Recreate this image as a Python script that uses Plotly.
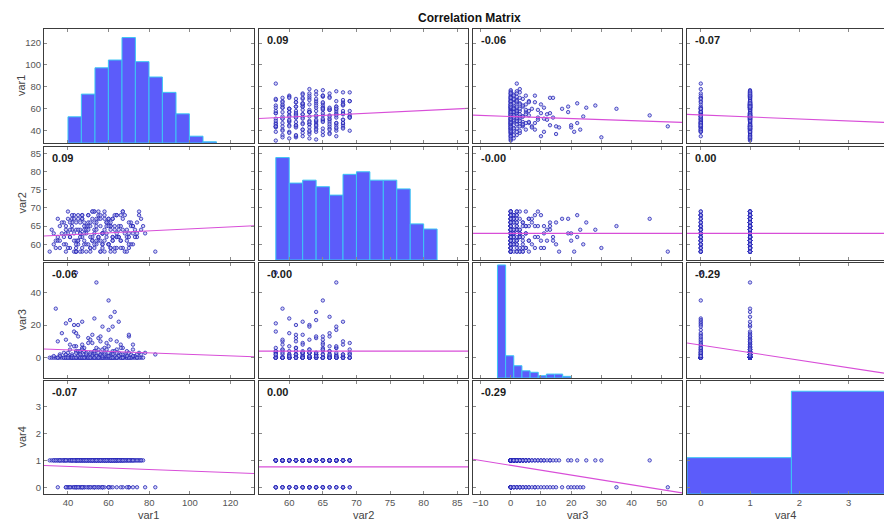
import plotly.graph_objects as go

names = ["var1", "var2", "var3", "var4"]

# ---- observations (read approximately from the scatter panels) ----
# group: var4 = 1, var3 = 0
gA_v1 = [31, 32, 34, 35, 36, 37, 38, 39, 40, 41, 42, 43, 44, 45, 46, 47, 48, 49, 50, 51, 52, 53, 54,
         55, 56, 57, 58, 59, 60, 61, 62, 63, 64, 65, 66, 67, 68, 69, 70, 71, 72, 73, 74, 76, 77,
         33, 38, 42, 44, 47, 49, 50, 52, 53, 55, 56, 57, 58, 59, 60, 61, 62, 63, 64, 66,
         48, 45, 51, 54, 46, 41, 67, 69, 71, 75]
gA_v2 = [58, 64, 61, 67, 59, 63, 66, 60, 69, 62, 65, 68, 58, 61, 64, 67, 60, 63, 66, 59, 62, 69, 65,
         68, 58, 63, 61, 66, 60, 64, 67, 59, 62, 65, 68, 69, 58, 61, 63, 66, 60, 64, 62, 67, 65,
         63, 60, 66, 59, 62, 65, 68, 61, 64, 67, 58, 60, 69, 63, 66, 59, 62, 65, 68, 61,
         64, 67, 58, 60, 63, 66, 59, 62, 65, 68]
# group: var4 = 1, var3 = 1..16
gB_v1 = [33, 36, 38, 40, 41, 42, 44, 45, 46, 47, 48, 49, 50, 51, 52, 53, 54, 55, 56, 57, 58, 59, 60, 61, 62,
         63, 64, 65, 66, 67, 68, 69, 70, 71, 72, 73, 75, 76, 37, 39, 43, 52, 56, 59, 61, 47, 58, 64, 35, 44,
         36, 39, 42, 44, 46, 48, 50, 51, 53, 54, 55, 57, 58, 60, 62, 63, 65, 66, 68, 70,
         72, 74, 45, 49, 52, 56, 59, 61, 64, 67]
gB_v2 = [60, 65, 62, 67, 59, 64, 61, 68, 63, 58, 66, 60, 65, 62, 69, 59, 64, 61, 67, 63, 58, 66, 60, 65, 62,
         68, 59, 64, 61, 67, 63, 58, 66, 60, 65, 62, 69, 64, 66, 63, 58, 61, 65, 62, 59, 68, 67, 63, 61, 66,
         61, 64, 67, 58, 62, 65, 68, 59, 63, 66, 69, 60, 64, 67, 61, 58, 62, 65, 68, 59,
         63, 66, 60, 64, 67, 61, 65, 58, 62, 69]
gB_v3 = [1, 2, 3, 1, 5, 2, 4, 1, 3, 6, 2, 1, 9, 3, 2, 4, 1, 12, 2, 5, 3, 1, 7, 2, 4,
         1, 10, 3, 2, 6, 1, 4, 13, 2, 8, 1, 3, 2, 15, 11, 16, 14, 13, 9, 11, 8, 6, 5, 10, 7,
         1, 2, 1, 3, 2, 4, 1, 2, 3, 1, 5, 2, 1, 3, 2, 4, 1, 6, 2, 3,
         1, 2, 4, 3, 1, 2, 5, 1, 3, 2]
# group: var4 = 1, large var3
gC_v1 = [54, 34, 63, 61, 65, 62, 43]
gC_v2 = [67, 59, 64, 66, 62, 67, 63]
gC_v3 = [46, 30, 28, 25, 22, 19, 20]
# group: var4 = 0, var3 = 0
gD_v1 = [35, 39, 40, 42, 43, 44, 46, 47, 48, 50, 51, 53, 55, 57, 61, 62, 64, 67, 70, 74]
gD_v2 = [62, 65, 59, 68, 61, 64, 58, 67, 63, 60, 66, 69, 62, 59, 65, 61, 68, 64, 60, 63]
# group: var4 = 0, var3 = 1..15
gE_v1 = [83, 78, 72, 70, 66, 56, 50, 48, 46, 44, 52, 55, 43, 49, 51, 57, 45, 47, 53, 54, 58, 41, 40, 69, 60]
gE_v2 = [58, 63, 65, 62, 59, 68, 64, 61, 66, 60, 69, 62, 67, 58, 65, 63, 64, 59, 66, 61, 68, 62, 63, 64, 60]
gE_v3 = [2, 3, 5, 14, 8, 10, 12, 6, 4, 15, 9, 3, 7, 2, 11, 1, 13, 5, 4, 6, 2, 8, 3, 1, 1]
# group: var4 = 0, large var3
gF_v1 = [60, 44, 53, 41, 47, 39, 45, 60, 57]
gF_v2 = [65, 58, 60, 64, 68, 58, 61, 67, 63]
gF_v3 = [35, 52, 24, 23, 22, 21, 20, 17, 19]

var1 = gA_v1 + gB_v1 + gC_v1 + gD_v1 + gE_v1 + gF_v1
var2 = gA_v2 + gB_v2 + gC_v2 + gD_v2 + gE_v2 + gF_v2
var3 = [0] * len(gA_v1) + gB_v3 + gC_v3 + [0] * len(gD_v1) + gE_v3 + gF_v3
var4 = [1] * (len(gA_v1) + len(gB_v1) + len(gC_v1)) + [0] * (len(gD_v1) + len(gE_v1) + len(gF_v1))
data = [var1, var2, var3, var4]

# correlation coefficients shown in the panels
corr = [[1.00, 0.09, -0.06, -0.07],
        [0.09, 1.00, -0.001, 0.001],
        [-0.06, -0.001, 1.00, -0.29],
        [-0.07, 0.001, -0.29, 1.00]]

# least-squares lines (row variable = a + b * column variable)
fit_intercept = [[None, 34.7, 53.0, 54.4],
                 [61.54, None, 63.0, 63.0],
                 [6.58, 4.0, None, 7.71],
                 [0.892, 0.76, 0.814, None]]
fit_slope = [[None, 0.297, -0.0954, -1.825],
             [0.0271, None, 0.0, 0.0],
             [-0.0455, 0.0, None, -4.6],
             [-0.0029, 0.0, -0.01806, None]]

# diagonal histograms: bin edges and bar heights (above the axis floor)
hist1_edges = [40, 46.6, 53.3, 59.9, 66.6, 73.2, 79.9, 86.5, 93.2, 99.8, 106.5, 113.1]
hist1_heights = [23.9, 44.6, 68.6, 75.7, 96.2, 74.2, 60.2, 46.2, 26.6, 6.2, 1.1]
hist2_edges = [58, 60, 62, 64, 66, 68, 70, 72, 74, 76, 78, 80, 82]
hist2_heights = [28.1, 21.1, 21.9, 20.1, 17.8, 23.5, 24.2, 21.9, 21.9, 19.5, 9.9, 8.5]
hist3_edges = [-4.4, -1.7, 1.0, 3.7, 6.4, 9.1, 11.8, 14.5, 17.2, 19.9]
hist3_heights = [69.1, 13.6, 7.5, 4.4, 3.5, 1.4, 2.4, 2.4, 1.0]
hist4_edges = [-0.28, 1.84, 3.96]
hist4_heights = [1.35, 3.82]
hist_edges = [hist1_edges, hist2_edges, hist3_edges, hist4_edges]
hist_heights = [hist1_heights, hist2_heights, hist3_heights, hist4_heights]

# tick values
x_ticks = [[40, 60, 80, 100, 120], [60, 65, 70, 75, 80, 85], [-10, 0, 10, 20, 30, 40, 50], [0, 1, 2, 3]]
y_ticks = [[40, 60, 80, 100, 120], [60, 65, 70, 75, 80, 85], [0, 20, 40], [0, 1, 2, 3]]

# ---- layout geometry ----
W, H = 884, 522
x_ranges = [[28.2, 131.6], [55.5, 86.6], [-12.5, 56.7], [-0.28, 3.72]]
y_ranges = [[28.8, 132.8], [55.7, 86.7], [-12.4, 57.9], [-0.25, 3.95]]
col_px = [(44, 254), (259, 468), (473, 682), (687, 884)]
row_px = [(29, 143), (147, 260), (263, 378), (381, 494)]

FONT = "Liberation Sans, Arial, sans-serif"
BAR_FILL = "#5c5cfa"
BAR_EDGE = "#3cc6f4"
LINE_C = "#d84ed8"
DOT_FILL = "rgba(175,175,235,0.55)"
DOT_EDGE = "#2626b8"
AX_C = "#3c3c3c"

fig = go.Figure()
layout = dict(width=W, height=H, margin=dict(l=0, r=0, t=0, b=0),
              paper_bgcolor="white", plot_bgcolor="white", showlegend=False,
              template="none", font=dict(family=FONT, size=10, color="#555"))
annotations = []

for i in range(4):
    for j in range(4):
        k = i * 4 + j + 1
        xa = "x" if k == 1 else f"x{k}"
        ya = "y" if k == 1 else f"y{k}"
        xkey = "xaxis" if k == 1 else f"xaxis{k}"
        ykey = "yaxis" if k == 1 else f"yaxis{k}"
        c0, c1 = col_px[j]
        r0, r1 = row_px[i]
        layout[xkey] = dict(domain=[c0 / W, c1 / W], anchor=ya, range=x_ranges[j],
                            tickvals=x_ticks[j], showticklabels=(i == 3),
                            ticks="inside", ticklen=3, tickcolor="#8a8a8a",
                            showline=True, linecolor=AX_C, linewidth=1, mirror="ticks",
                            showgrid=False, zeroline=False, automargin=False,
                            tickfont=dict(family=FONT, size=9.5, color="#555"))
        layout[ykey] = dict(domain=[1 - r1 / H, 1 - r0 / H], anchor=xa, range=y_ranges[i],
                            tickvals=y_ticks[i], showticklabels=(j == 0),
                            ticks="inside", ticklen=3, tickcolor="#8a8a8a",
                            showline=True, linecolor=AX_C, linewidth=1,
                            mirror=("ticks" if j < 3 else False),
                            showgrid=False, zeroline=False, automargin=False,
                            tickfont=dict(family=FONT, size=9.5, color="#555"))
        if i == j:
            e = hist_edges[i]
            centers = [(e[n] + e[n + 1]) / 2 for n in range(len(e) - 1)]
            widths = [e[n + 1] - e[n] for n in range(len(e) - 1)]
            fig.add_trace(go.Bar(x=centers, y=hist_heights[i], width=widths,
                                 base=y_ranges[i][0], xaxis=xa, yaxis=ya,
                                 marker=dict(color=BAR_FILL, line=dict(color=BAR_EDGE, width=1)),
                                 hoverinfo="skip"))
        else:
            fig.add_trace(go.Scatter(x=data[j], y=data[i], mode="markers", xaxis=xa, yaxis=ya,
                                     marker=dict(size=3.4, color=DOT_FILL, symbol="circle",
                                                 line=dict(color=DOT_EDGE, width=0.8))))
            a, b = fit_intercept[i][j], fit_slope[i][j]
            xs = [x_ranges[j][0], x_ranges[j][1]]
            fig.add_trace(go.Scatter(x=xs, y=[a + b * v for v in xs], mode="lines",
                                     xaxis=xa, yaxis=ya, line=dict(color=LINE_C, width=1.1)))
            annotations.append(dict(x=(c0 + 6) / W, y=1 - (r0 + 11) / H, xref="paper", yref="paper",
                                    xanchor="left", yanchor="middle", showarrow=False,
                                    text=f"<b>{corr[i][j]:.2f}</b>",
                                    font=dict(family=FONT, size=11, color="#1a1a1a")))

# axis labels
for j in range(4):
    c0, c1 = col_px[j]
    annotations.append(dict(x=(c0 + min(c1, c0 + 209)) / 2 / W, y=1 - 515 / H, xref="paper", yref="paper",
                            xanchor="center", yanchor="middle", showarrow=False, text=names[j],
                            font=dict(family=FONT, size=11, color="#444")))
for i in range(4):
    r0, r1 = row_px[i]
    annotations.append(dict(x=21 / W, y=1 - (r0 + r1) / 2 / H, xref="paper", yref="paper",
                            xanchor="center", yanchor="middle", showarrow=False, text=names[i],
                            textangle=-90, font=dict(family=FONT, size=11, color="#444")))
# title
annotations.append(dict(x=469 / W, y=1 - 18.5 / H, xref="paper", yref="paper",
                        xanchor="center", yanchor="middle", showarrow=False,
                        text="<b>Correlation Matrix</b>",
                        font=dict(family=FONT, size=12, color="#111")))

layout["annotations"] = annotations
fig.update_layout(**layout)
fig.write_html("out.html")
